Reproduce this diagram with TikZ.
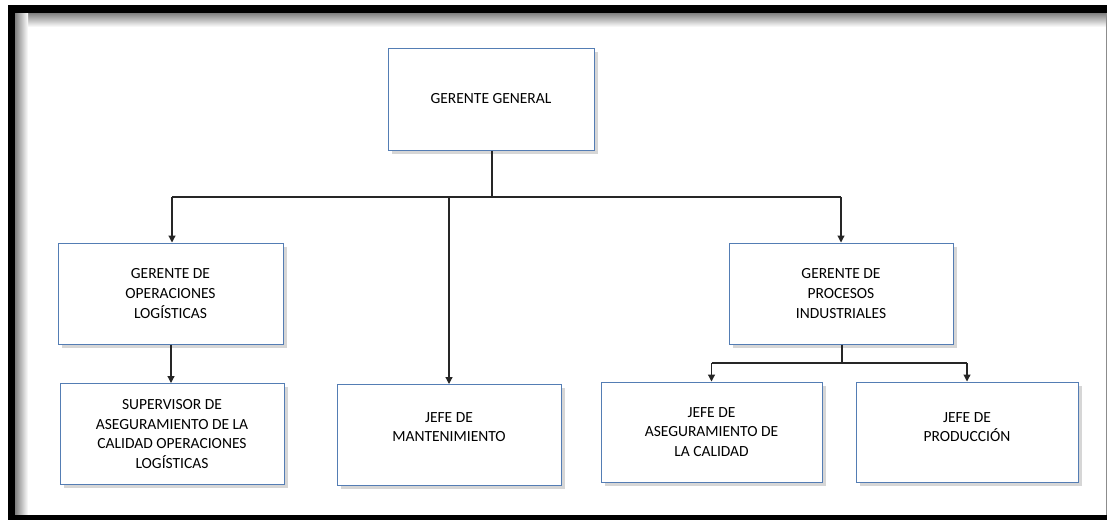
\documentclass[tikz,border=0pt]{standalone}
\usepackage{fontspec}
\setmainfont{Carlito}
\usetikzlibrary{arrows.meta,shadows}
\definecolor{boxblue}{RGB}{84,125,180}
\begin{document}
\begin{tikzpicture}[x=1pt,y=-1pt,
  box/.style={draw=boxblue, line width=1pt, fill=white,
    drop shadow={opacity=0.32, shadow xshift=3.5pt, shadow yshift=-3.5pt},
    inner sep=0pt, minimum width=224pt, minimum height=101pt},
  lbl/.style={align=center, font=\fontsize{15.5}{19.8}\selectfont, inner sep=0pt},
  conn/.style={draw=black!85, line width=1.2pt},
  arr/.style={conn, -{Triangle[length=7pt,width=7pt]}}]
\useasboundingbox (0,0) rectangle (1107,520);
% frame
\fill[white] (0,0) rectangle (1107,520);
\shade[top color=black!50, bottom color=white] (15,13) rectangle (1106,27);
\shade[left color=black!50, right color=white] (15,13) rectangle (28,515);
\fill[black] (8,5) rectangle (15,520);
\fill[black] (8,5) rectangle (1107,13);
\fill[black] (8,515) rectangle (1107,520);
\draw[black!45, line width=0.8pt] (1106,13) -- (1106,515);
% boxes
\node[box, minimum width=206pt, minimum height=102pt] (gg) at (491,99) {};
\node[box, minimum width=225pt] (go) at (170.5,293.5) {};
\node[box] (sup) at (172,434) {};
\node[box] (mant) at (449,435) {};
\node[box] (gp) at (841,293.5) {};
\node[box, minimum width=221pt, minimum height=100pt] (aseg) at (711.5,432) {};
\node[box, minimum width=222pt, minimum height=100pt] (prod) at (967,432) {};
% labels
\node[lbl] (tgg) at (gg.center) {GERENTE GENERAL};
\node[lbl] (tgo) at (go.center) {GERENTE DE\\OPERACIONES\\LOGÍSTICAS};
\node[lbl] (tsup) at (sup.center) {SUPERVISOR DE\\ASEGURAMIENTO DE LA\\CALIDAD OPERACIONES\\LOGÍSTICAS};
\node[lbl] (tmant) at ([yshift=8pt]mant.center) {JEFE DE\\MANTENIMIENTO};
\node[lbl] (tgp) at (gp.center) {GERENTE DE\\PROCESOS\\INDUSTRIALES};
\node[lbl] (taseg) at (aseg.center) {JEFE DE\\ASEGURAMIENTO DE\\LA CALIDAD};
\node[lbl] (tprod) at ([yshift=5pt]prod.center) {JEFE DE\\PRODUCCIÓN};
% connectors
\coordinate (bus) at (492,197);
\coordinate (bus2) at (842,363);
\draw[conn] (gg.south -| bus) -- (bus);
\draw[conn] (bus -| 172,0) -- (bus -| gp.north);
\draw[arr] (bus -| 172,0) -- (go.north -| 172,0);
\draw[arr] (bus -| mant.north) -- (mant.north);
\draw[arr] (bus -| gp.north) -- (gp.north);
\draw[arr] (go.south -| 171,0) -- (sup.north -| 171,0);
\draw[conn] (gp.south -| bus2) -- (bus2);
\draw[conn] (bus2 -| aseg.north) -- (bus2 -| prod.north);
\draw[arr] (bus2 -| aseg.north) -- (aseg.north);
\draw[arr] (bus2 -| prod.north) -- (prod.north);
\end{tikzpicture}
\end{document}
